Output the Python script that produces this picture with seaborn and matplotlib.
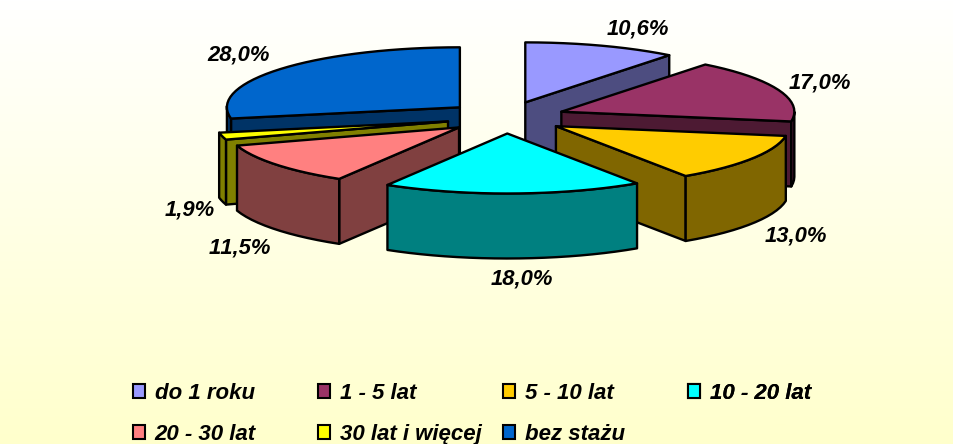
import numpy as np
import matplotlib
matplotlib.use("Agg")
import matplotlib.pyplot as plt
from matplotlib.patches import Polygon, Patch
from matplotlib.colors import to_rgb, LinearSegmentedColormap
import seaborn as sns

categories = ["do 1 roku", "1 - 5 lat", "5 - 10 lat", "10 - 20 lat",
              "20 - 30 lat", "30 lat i więcej", "bez stażu"]
values = [10.6, 17.0, 13.0, 18.0, 11.5, 1.9, 28.0]
labels = ["10,6%", "17,0%", "13,0%", "18,0%", "11,5%", "1,9%", "28,0%"]
colors = ["#9999FF", "#993366", "#FFCC00", "#00FFFF", "#FF8080", "#FFFF00", "#0066CC"]

sns.set_theme(style="white")
plt.rcParams["font.family"] = ["Liberation Sans", "DejaVu Sans"]
plt.rcParams["text.kerning_factor"] = 10
palette = sns.color_palette(colors)

# projection of the exploded 3D pie, in pixel units
CX, CY = 505.8, 117.5
RX, RY = 233.0, 60.0
EX, EY = 59.6, 16.0
DEPTH = 65.0
LW = 1.7
DRAW_ORDER = [0, 1, 6, 5, 4, 2, 3]
LABEL_POS = [(638, 29), (820, 83), (796, 236), (522, 279), (240, 248), (190, 210), (239, 55)]
LEGEND_COLS = [([0, 4], 133), ([1, 5], 318), ([2, 6], 503), ([3], 688)]

fig = plt.figure(figsize=(9.54, 4.44), dpi=100)
ax = fig.add_axes([0, 0, 1, 1])
ax.set_xlim(0, 954)
ax.set_ylim(444, 0)
ax.axis("off")

grad = LinearSegmentedColormap.from_list("bg", ["#FFFFFF", "#FFFFCC"])
ax.imshow(np.linspace(0, 1, 444)[:, None], cmap=grad, extent=(0, 954, 444, 0),
          aspect="auto", zorder=0)

edges = np.cumsum([0.0] + values) / sum(values) * 2 * np.pi
z = 1


def add(points, color):
    global z
    ax.add_patch(Polygon(points, closed=True, facecolor=color, edgecolor="black",
                         linewidth=LW, joinstyle="round", zorder=z))
    z += 1


def shade(c):
    return tuple(0.5 * v for v in to_rgb(c))


for i in DRAW_ORDER:
    t0, t1 = edges[i], edges[i + 1]
    mid = (t0 + t1) / 2
    ax0 = CX + EX * np.sin(mid)
    ay0 = CY - EY * np.cos(mid)
    col = palette[i]
    dark = shade(col)
    arc = np.linspace(t0, t1, max(4, int((t1 - t0) / 0.05)))
    px = ax0 + RX * np.sin(arc)
    py = ay0 - RY * np.cos(arc)
    top = np.column_stack([px, py])
    apex = np.array([ax0, ay0])
    down = np.array([0, DEPTH])

    # radial walls that face the viewer
    if np.sin(t1) > 1e-6:
        add([apex, top[-1], top[-1] + down, apex + down], dark)
    if np.sin(t0) < -1e-6:
        add([apex, top[0], top[0] + down, apex + down], dark)
    # outer rim, only the part turned to the viewer
    vis = np.cos(arc) <= 0.02
    if vis.sum() >= 2:
        rim = top[vis]
        add(np.vstack([rim, rim[::-1] + down]), dark)
    add(np.vstack([apex, top]), col)

for txt, (x, y) in zip(labels, LABEL_POS):
    ax.text(x, y, txt, ha="center", va="center", fontsize=15.8, fontweight="bold",
            fontstyle="italic", color="black", zorder=50)

# one legend per column, so each column starts where the chart has it
for members, x in LEGEND_COLS:
    handles = [Patch(facecolor=palette[i], edgecolor="black", linewidth=1.5, label=categories[i])
               for i in members]
    leg = ax.legend(handles=handles, frameon=False, loc="upper left",
                    bbox_to_anchor=(x / 954, 1 - 383 / 444), borderaxespad=0, borderpad=0,
                    prop=dict(family="Liberation Sans", size=16, weight="bold", style="italic"),
                    labelcolor="black", handlelength=0.55, handleheight=0.55,
                    handletextpad=0.42, labelspacing=0.89)
    ax.add_artist(leg)

fig.savefig("out.png", dpi=100)
